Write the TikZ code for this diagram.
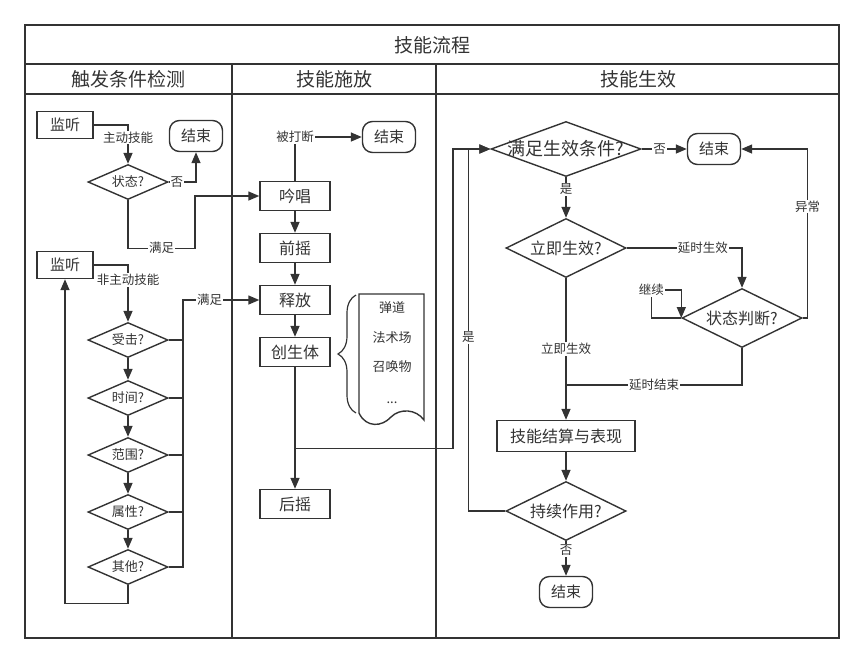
\documentclass[tikz,border=0pt]{standalone}
\usepackage{fontspec}
\setmainfont{Noto Sans CJK SC}
\usetikzlibrary{arrows.meta,shapes.geometric,decorations.pathreplacing}
\definecolor{ink}{HTML}{333333}

\begin{document}
\begin{tikzpicture}
	[x=1pt,y=-1pt,
	every node/.style={text=ink},
	box/.style={rectangle, draw=ink, line width=1.4pt, inner sep=0pt, minimum width=70pt, minimum height=29pt, font=\fontsize{16}{19}\selectfont},
	listen/.style={box, minimum width=56pt, minimum height=27pt, font=\fontsize{15}{18}\selectfont},
	endbox/.style={box, rounded corners=10pt, minimum width=53pt, minimum height=31pt, font=\fontsize{15}{18}\selectfont},
	cond/.style={diamond, aspect=2, draw=ink, line width=1.4pt, inner sep=0pt, minimum width=80pt, minimum height=35pt, font=\fontsize{13}{15}\selectfont},
	bigcond/.style={cond, minimum width=120pt, minimum height=59pt, font=\fontsize{16}{19}\selectfont},
	lbl/.style={fill=white, inner sep=1pt, font=\fontsize{12.5}{14}\selectfont},
	doctxt/.style={font=\fontsize{13}{15}\selectfont},
	lane/.style={font=\fontsize{19}{22}\selectfont},
	ln/.style={draw=ink, line width=1.4pt},
	arr/.style={ln, -{Triangle[length=11pt,width=9pt]}}]
	\useasboundingbox (0,0) rectangle (865,665);

	\draw[ln] (25,25) rectangle (839,638);
	\draw[ln] (25,64) -- (839,64);
	\draw[ln] (25,94) -- (839,94);
	\draw[ln] (232,64) -- (232,638);
	\draw[ln] (436,64) -- (436,638);
	\node[lane] (title) at (432,45) {技能流程};
	\node[lane] (h1) at (128,79) {触发条件检测};
	\node[lane] (h2) at (334,79) {技能施放};
	\node[lane] (h3) at (638,79) {技能生效};

	\node[listen] (lis1) at (65,125) {监听};
	\node[endbox] (end1) at (196,136) {结束};
	\node[cond] (zt) at (128,182) {状态?};
	\node[listen] (lis2) at (65,265) {监听};
	\node[cond] (sj) at (128,340) {受击?};
	\node[cond] (sjian) at (128,398) {时间?};
	\node[cond] (fw) at (128,455) {范围?};
	\node[cond] (sx) at (128,512) {属性?};
	\node[cond] (qt) at (128,567) {其他?};

	\node[box] (yc) at (295,196) {吟唱};
	\node[box] (qy) at (295,248) {前摇};
	\node[box] (sf) at (295,300) {释放};
	\node[box] (csc) at (295,352) {创生体};
	\node[box] (hy) at (295,504) {后摇};
	\node[endbox] (end2) at (389,137) {结束};
	\draw[ln] (359,294) -- (424,294) -- (424,420) .. controls (416,409) and (400,408) .. (391,417) .. controls (382,427) and (366,428) .. (359,413) -- cycle;
	\draw[ln, line width=1.2pt, decorate, decoration={brace, amplitude=18pt}] (356,413) -- (356,295);
	\node[doctxt] (d1) at (392,308) {弹道};
	\node[doctxt] (d2) at (392,338) {法术场};
	\node[doctxt] (d3) at (392,367) {召唤物};
	\node[doctxt] (d4) at (392,403) {...};

	\node[bigcond, minimum width=150pt, minimum height=55pt, font=\fontsize{18}{21}\selectfont] (mz) at (566,149) {\makebox[0pt]{满足生效条件?}};
	\node[endbox] (end3) at (714,149) {结束};
	\node[bigcond] (lj) at (566,248) {立即生效?};
	\node[bigcond] (zp) at (742,318) {状态判断?};
	\node[box, minimum width=138pt, minimum height=31pt] (js) at (566,436) {技能结算与表现};
	\node[bigcond] (cx) at (566,511) {持续作用?};
	\node[endbox] (end4) at (566,592) {结束};
	\coordinate (bus) at (183,300);
	\coordinate (mg) at (566,385);

	\draw[arr] (lis1.east) -| node[lbl, pos=0.66]{主动技能} (zt.north);
	\draw[arr] (zt.east) -| node[lbl, pos=0.15]{否} (end1.south);
	\draw[arr] (zt.south) -- ++(0,48) -- node[lbl]{满足} ++(67,0) |- (yc.west);
	\draw[arr] (lis2.east) -| node[lbl, pos=0.63]{非主动技能} (sj.north);
	\draw[arr] (sj) -- (sjian);
	\draw[arr] (sjian) -- (fw);
	\draw[arr] (fw) -- (sx);
	\draw[arr] (sx) -- (qt);
	\foreach \n in {sj,sjian,fw,sx}
		\draw[ln] (\n.east) -- (\n.east -| bus);
	\draw[arr] (qt.east) -| (bus) -- node[lbl, pos=0.35]{满足} (sf.west);
	\draw[arr] (qt.south) -- ++(0,18) -| (lis2.south);

	\draw[arr] (yc.north) |- node[lbl, pos=0.5]{被打断} (end2.west);
	\draw[arr] (yc) -- (qy);
	\draw[arr] (qy) -- (sf);
	\draw[arr] (sf) -- (csc);
	\draw[arr] (csc) -- (hy);
	\draw[arr] (csc.south) -- ++(0,81) -- ++(158,0) |- (mz.west);

	\draw[arr] (cx.west) -- ++(-37,0) |- node[lbl, pos=0.24]{是} (mz.west);
	\draw[arr] (mz.east) -- node[lbl, pos=0.4]{否} (end3.west);
	\draw[arr] (mz.south) -- node[lbl, pos=0.3]{是} (lj.north);
	\draw[arr] (lj.east) -| node[lbl, pos=0.33]{延时生效} (zp.north);
	\draw[arr] (zp.west) -- ++(-30,0) -- ++(0,-28) node[lbl]{继续} -- ++(30,0) -- (zp.west);
	\draw[arr] (zp.east) -- ++(5,0) |- node[lbl, pos=0.33]{异常} (end3.east);
	\draw[arr] (lj.south) -- node[lbl, pos=0.5]{立即生效} (js.north);
	\draw[ln] (zp.south) |- node[lbl, pos=0.75]{延时结束} (mg);
	\draw[arr] (js) -- (cx);
	\draw[arr] (cx.south) -- node[lbl, pos=0.27]{否} (end4.north);
\end{tikzpicture}
\end{document}
